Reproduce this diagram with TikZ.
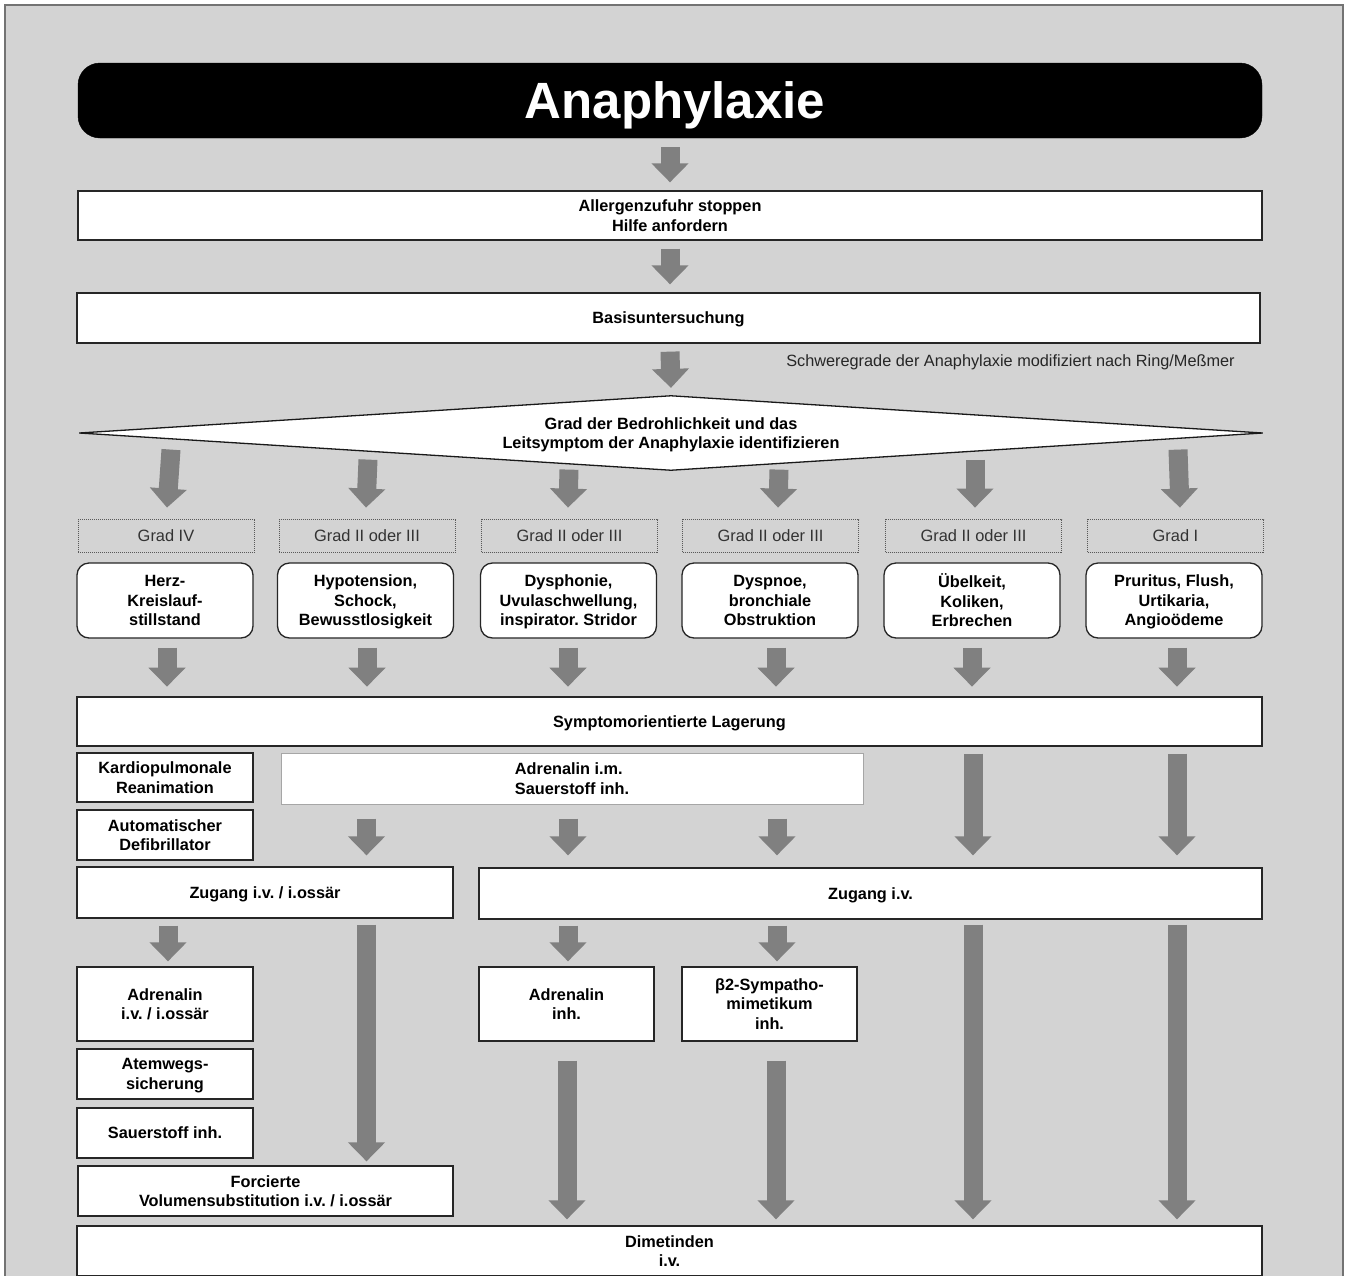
\documentclass[tikz,border=0pt]{standalone}
\usepackage{fontspec}
\setmainfont{Liberation Sans}
\usetikzlibrary{arrows.meta,shapes.geometric,calc}
\definecolor{bgc}{RGB}{211,211,211}
\definecolor{arrc}{RGB}{128,128,128}
\frenchspacing
\begin{document}
\begin{tikzpicture}[x=1pt,y=-1pt,
  box/.style={draw=black!85,line width=1.3pt,fill=white,inner sep=0pt,align=center,text depth=-3pt,
    font=\fontsize{16.3}{19.5}\selectfont\bfseries\frenchspacing},
  rbox/.style={box,rounded corners=12pt,text depth=-1.5pt},
  gradbox/.style={draw=black!65,line width=0.8pt,dash pattern=on 1pt off 1pt,inner sep=0pt,text depth=-1pt,
    minimum width=176pt,minimum height=33pt,font=\fontsize{16.4}{19}\selectfont,text=black!80},
  barrow/.style={draw=arrc,line width=19pt,-{Triangle[width=36pt,length=19pt]}},
]
\clip (0,0) rectangle (1347,1275);
\fill[white] (0,0) rectangle (1347,1275);
\draw[fill=bgc,draw=black!55,line width=2pt] (5,5) rectangle (1343,1300);

% title
\node[fill=black,draw=black,rounded corners=22pt,minimum width=1184pt,minimum height=75pt,
  inner sep=0pt,text=white,text depth=0pt,align=center,text width=1184pt,
  font=\fontsize{51}{60}\selectfont\bfseries]
  (title) at (670,100.5) {\hspace*{10pt}Anaphylaxie};

\node[box,minimum width=1184pt,minimum height=49pt] (allerg) at (670,215.5)
  {Allergenzufuhr stoppen\\Hilfe anfordern};
\node[box,minimum width=1183pt,minimum height=50pt] (basis) at (668.5,318) {Basisuntersuchung};
\node[font=\fontsize{16.3}{19}\selectfont,text=black!85,inner sep=0pt,text depth=0pt] (note) at (1010.5,361)
  {Schweregrade der Anaphylaxie modifiziert nach Ring/Meßmer};

% decision diamond
\node[diamond,draw=black!90,line width=1.3pt,fill=white,aspect=16,inner sep=0pt,text depth=-2pt,
  minimum width=1184pt,minimum height=75pt,align=center,font=\fontsize{16.3}{19.5}\selectfont\bfseries]
  (dia) at (671,433) {Grad der Bedrohlichkeit und das\\Leitsymptom der Anaphylaxie identifizieren};

% grade labels
\node[gradbox] (g1) at (166,536) {Grad IV};
\node[gradbox] (g2) at (367,536) {Grad II oder III};
\node[gradbox] (g3) at (569.5,536) {Grad II oder III};
\node[gradbox] (g4) at (770.5,536) {Grad II oder III};
\node[gradbox] (g5) at (973.5,536) {Grad II oder III};
\node[gradbox] (g6) at (1175.5,536) {Grad I};

% symptoms
\node[rbox,minimum width=176pt,minimum height=75pt] (s1) at (165,600.5) {Herz-\\Kreislauf-\\stillstand};
\node[rbox,minimum width=176pt,minimum height=75pt] (s2) at (365.5,600.5) {Hypotension,\\Schock,\\Bewusstlosigkeit};
\node[rbox,minimum width=176pt,minimum height=75pt] (s3) at (568.5,600.5) {Dysphonie,\\Uvulaschwellung,\\inspirator. Stridor};
\node[rbox,minimum width=176pt,minimum height=75pt] (s4) at (770,600.5) {Dyspnoe,\\bronchiale\\Obstruktion};
\node[rbox,minimum width=176pt,minimum height=75pt] (s5) at (972,600.5) {Übelkeit,\\Koliken,\\Erbrechen};
\node[rbox,minimum width=176pt,minimum height=75pt] (s6) at (1174,600.5) {Pruritus, Flush,\\Urtikaria,\\Angioödeme};

\node[box,minimum width=1185pt,minimum height=49pt] (lager) at (669.5,721.5) {Symptomorientierte Lagerung};

% therapy
\node[box,minimum width=176pt,minimum height=49pt] (kardio) at (165,777.5) {Kardiopulmonale\\Reanimation};
\node[box,draw=black!35,line width=1pt,minimum width=582pt,minimum height=51pt,align=left] (adrim) at (572,778.5)
  {Adrenalin i.m.\\Sauerstoff inh.};
\node[box,minimum width=176pt,minimum height=50pt] (auto) at (165,835) {Automatischer\\Defibrillator};
\node[box,minimum width=376pt,minimum height=51pt] (zugio) at (265,892.5) {Zugang i.v. / i.ossär};
\node[box,minimum width=783pt,minimum height=51pt] (zugiv) at (870.5,893.5) {Zugang i.v.};
\node[box,minimum width=176pt,minimum height=74pt] (adrio) at (165,1004) {Adrenalin\\i.v. / i.ossär};
\node[box,minimum width=176pt,minimum height=50pt] (atem) at (165,1074) {Atemwegs-\\sicherung};
\node[box,minimum width=176pt,minimum height=50pt] (sauer) at (165,1133) {Sauerstoff inh.};
\node[box,minimum width=375pt,minimum height=50pt] (forc) at (265.5,1191) {Forcierte\\Volumensubstitution i.v. / i.ossär};
\node[box,minimum width=175pt,minimum height=74pt] (adrinh) at (566.5,1004) {Adrenalin\\inh.};
\node[box,minimum width=175pt,minimum height=74pt] (beta) at (769.5,1004) {β2-Sympatho-\\mimetikum\\inh.};
\node[box,minimum width=1185pt,minimum height=50pt] (dimet) at (669.5,1251) {Dimetinden\\i.v.};

% block arrows, top part
\draw[barrow] ($(title.south)+(0,9)$) -- ($(allerg.north)+(0,-8)$);
\draw[barrow] ($(allerg.south)+(0,8)$) -- ($(basis.north)+(1.5,-8)$);
\draw[barrow] ($(basis.south)+(1.5,8)$) -- ($(dia.north)+(0,-7)$);

% diamond to grades
\draw[barrow] ($(g1.north)+(5,-69.5)$) -- ($(g1.north)+(1,-11.5)$);
\draw[barrow] ($(g2.north)+(1,-59.5)$) -- ($(g2.north)+(-1,-11.5)$);
\draw[barrow] ($(g3.north)+(-0.5,-49.5)$) -- ($(g3.north)+(-1.5,-11.5)$);
\draw[barrow] ($(g4.north)+(8.5,-49.5)$) -- ($(g4.north)+(7.5,-11.5)$);
\draw[barrow] ($(g5.north)+(1.5,-59.5)$) -- ($(g5.north)+(1.5,-11.5)$);
\draw[barrow] ($(g6.north)+(2.5,-69.5)$) -- ($(g6.north)+(4.5,-11.5)$);

% symptoms to positioning
\draw[barrow] ($(s1.south)+(2,9)$) -- ($(s1.south)+(2,48)$);
\draw[barrow] ($(s2.south)+(1.5,9)$) -- ($(s2.south)+(1.5,48)$);
\draw[barrow] ($(s3.south)+(-0.5,9)$) -- ($(s3.south)+(-0.5,48)$);
\draw[barrow] ($(s4.south)+(6,9)$) -- ($(s4.south)+(6,48)$);
\draw[barrow] ($(s5.south)+(0,9)$) -- ($(s5.south)+(0,48)$);
\draw[barrow] ($(s6.south)+(3,9)$) -- ($(s6.south)+(3,48)$);

% lower part
\draw[barrow] ($(lager.south -| s5.south)+(1,7)$) -- ($(zugiv.north -| s5.south)+(1,-12)$);
\draw[barrow] ($(lager.south -| s6.south)+(3,7)$) -- ($(zugiv.north -| s6.south)+(3,-12)$);
\draw[barrow] ($(adrim.south -| s2.south)+(1,14)$) -- ($(zugio.north -| s2.south)+(1,-11)$);
\draw[barrow] ($(adrim.south -| s3.south)+(-0.5,14)$) -- ($(zugiv.north -| s3.south)+(-0.5,-12)$);
\draw[barrow] ($(adrim.south -| s4.south)+(7,14)$) -- ($(zugiv.north -| s4.south)+(7,-12)$);

\draw[barrow] ($(zugio.south -| adrio.north)+(3,7)$) -- ($(adrio.north)+(3,-5)$);
\draw[barrow] ($(zugio.south -| s2.south)+(1,6)$) -- ($(forc.north -| s2.south)+(1,-4)$);
\draw[barrow] ($(zugiv.south -| adrinh.north)+(1.5,6)$) -- ($(adrinh.north)+(1.5,-5)$);
\draw[barrow] ($(zugiv.south -| beta.north)+(7.5,6)$) -- ($(beta.north)+(7.5,-5)$);
\draw[barrow] ($(zugiv.south -| s5.south)+(1,5)$) -- ($(dimet.north -| s5.south)+(1,-6)$);
\draw[barrow] ($(zugiv.south -| s6.south)+(3,5)$) -- ($(dimet.north -| s6.south)+(3,-6)$);
\draw[barrow] ($(adrinh.south)+(0.5,19)$) -- ($(dimet.north -| adrinh.south)+(0.5,-6)$);
\draw[barrow] ($(beta.south)+(6.5,19)$) -- ($(dimet.north -| beta.south)+(6.5,-6)$);
\end{tikzpicture}
\end{document}
